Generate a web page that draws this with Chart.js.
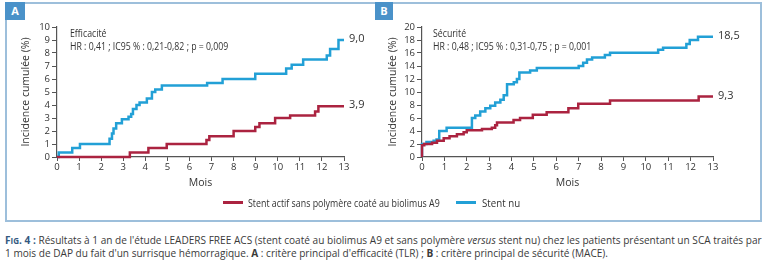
<!DOCTYPE html>
<html>
<head>
<meta charset="utf-8">
<script src="https://cdn.jsdelivr.net/npm/chart.js@4.4.0/dist/chart.umd.min.js"></script>
<style>
  body { margin: 0; width: 768px; height: 265px; background: #fff; position: relative; overflow: hidden; font-family: "Open Sans", sans-serif; color: #333; }
  .frame { position: absolute; left: 5px; top: 2px; width: 757px; height: 220px; box-sizing: border-box; border: 2px solid #9dbfdb; }
  .tag { position: absolute; top: 2px; height: 18px; background: #4a92c9; color: #fff; font: bold 11px "Open Sans", sans-serif; line-height: 18px; text-align: center; }
  .panel { position: absolute; top: 0; width: 380px; height: 200px; }
  .leg { position: absolute; top: 196px; height: 14px; font-size: 11px; line-height: 14px; white-space: nowrap; transform-origin: left center; }
  .swatch { position: absolute; top: 201px; width: 20px; height: 3px; }
  .cap { position: absolute; left: 5px; font-size: 10px; line-height: 13px; white-space: nowrap; transform-origin: left center; color: #3a3a3a; }
  .cap b.fig { color: #34597f; font-weight: bold; }
</style>
</head>
<body>
<div class="frame"></div>
<div class="tag" style="left:5px;width:20px">A</div>
<div class="tag" style="left:375px;width:18px">B</div>
<div class="panel" style="left:0"><canvas id="chartA" width="380" height="200"></canvas></div>
<div class="panel" style="left:375px"><canvas id="chartB" width="380" height="200"></canvas></div>

<div class="swatch" style="left:223px;background:#ab2340"></div>
<div class="leg" id="leg1" style="left:248px"></div>
<div class="swatch" style="left:456px;background:#22a0d6"></div>
<div class="leg" id="leg2" style="left:482px"></div>

<div class="cap" id="cap1" style="top:234px"><b class="fig">F<span style="font-size:8px">IG</span>. 4 :</b> Résultats à 1 an de l'étude LEADERS FREE ACS (stent coaté au biolimus A9 et sans polymère <i>versus</i> stent nu) chez les patients présentant un SCA traités par</div>
<div class="cap" id="cap2" style="top:247px">1 mois de DAP du fait d'un surrisque hémorragique. <b>A</b> : critère principal d'efficacité (TLR) ; <b>B</b> : critère principal de sécurité (MACE).</div>

<script>
// series names
const seriesNames = ['Stent actif sans polymère coaté au biolimus A9', 'Stent nu'];
const seriesColors = ['#ab2340', '#22a0d6'];

// A : efficacité (mois, incidence cumulée %)
const effTimesA9 = [0, 3.3, 4.14, 4.97, 6.77, 6.9, 8.0, 8.98, 9.17, 9.88, 10.56, 11.69, 11.84, 13];
const effA9      = [0, 0.35, 0.7, 1.0, 1.3, 1.6, 2.0, 2.3, 2.6, 3.0, 3.2, 3.5, 3.9, 3.9];
const effTimesNu = [0, 0.08, 0.69, 1.04, 2.38, 2.49, 2.56, 2.68, 2.94, 3.24, 3.36, 3.44, 3.6, 3.74, 4.07, 4.3, 4.45, 4.75, 6.8, 7.5, 8.98, 10.38, 10.63, 11.15, 12.22, 12.37, 12.75, 13];
const effNu      = [0, 0.35, 0.7, 1.0, 1.4, 1.8, 2.2, 2.6, 2.9, 3.1, 3.3, 3.7, 4.0, 4.2, 4.5, 5.0, 5.2, 5.5, 5.7, 6.0, 6.4, 6.8, 7.1, 7.5, 7.8, 8.3, 9.0, 9.0];

// B : sécurité
const secTimesA9 = [0, 0, 0.1, 0.45, 0.67, 0.97, 1.23, 1.56, 1.86, 2.0, 2.68, 3.12, 3.27, 3.35, 4.09, 4.38, 4.95, 5.57, 6.54, 6.98, 8.4, 12.36, 13];
const secA9      = [0, 1.8, 2.0, 2.2, 2.5, 2.9, 3.2, 3.5, 3.8, 4.1, 4.3, 4.5, 4.9, 5.3, 5.7, 6.0, 6.5, 6.9, 7.5, 8.2, 8.7, 9.3, 9.3];
const secTimesNu = [0, 0, 0.2, 0.52, 0.65, 0.77, 1.1, 2.23, 2.38, 2.6, 2.83, 3.05, 3.27, 3.5, 3.65, 3.8, 4.1, 4.24, 4.35, 4.83, 5.13, 7.0, 7.2, 7.37, 7.6, 8.17, 8.4, 10.55, 10.77, 11.81, 11.96, 12.33, 13];
const secNu      = [0, 2.0, 2.3, 2.5, 2.7, 4.0, 4.5, 6.0, 6.4, 7.0, 7.5, 7.9, 8.4, 8.8, 9.5, 11.2, 11.5, 12.0, 13.0, 13.3, 13.7, 14.0, 14.5, 15.0, 15.3, 15.7, 16.05, 16.5, 16.8, 17.4, 18.0, 18.5, 18.5];

const panelTitles = ['Efficacité', 'Sécurité'];
const panelStats = ['HR : 0,41 ; IC95 % : 0,21-0,82 ; p = 0,009', 'HR : 0,48 ; IC95 % : 0,31-0,75 ; p = 0,001'];
const xTitle = 'Mois';
const yTitle = 'Incidence cumulée (%)';

function pts(times, vals) {
  return times.map((t, i) => ({ x: t, y: vals[i] }));
}

// texte dans le graphe + valeurs finales
const notesPlugin = {
  id: 'notes',
  afterDatasetsDraw(chart, args, opts) {
    const { ctx, chartArea, scales } = chart;
    ctx.save();
    ctx.fillStyle = '#333';
    ctx.font = '11.5px "Open Sans"';
    ctx.textBaseline = 'alphabetic';
    const sq = 0.76;
    ctx.fillText(opts.title, chartArea.left + opts.dx, chartArea.top + 10, ctx.measureText(opts.title).width * sq);
    ctx.fillText(opts.stats, chartArea.left + opts.dx, chartArea.top + 23, ctx.measureText(opts.stats).width * sq);
    ctx.font = '11px "Open Sans"';
    ctx.textBaseline = 'middle';
    chart.data.datasets.forEach(ds => {
      const last = ds.data[ds.data.length - 1];
      ctx.fillText(last.y.toFixed(1).replace('.', ','), scales.x.getPixelForValue(last.x) + 5, scales.y.getPixelForValue(last.y) - 1);
    });
    ctx.restore();
  }
};

function makeChart(id, a9, nu, yMax, yStep, lay, idx) {
  return new Chart(document.getElementById(id), {
    type: 'line',
    data: {
      datasets: [
        { label: seriesNames[0], data: a9, borderColor: seriesColors[0], borderWidth: 2.5, stepped: true, pointRadius: 0, fill: false, clip: 4 },
        { label: seriesNames[1], data: nu, borderColor: seriesColors[1], borderWidth: 2.5, stepped: true, pointRadius: 0, fill: false, clip: 4 }
      ]
    },
    options: {
      responsive: false,
      animation: false,
      layout: { padding: { top: 27, right: lay.right, bottom: 0, left: 0 } },
      plugins: {
        legend: { display: false },
        tooltip: { enabled: false },
        notes: { title: panelTitles[idx], stats: panelStats[idx], dx: lay.dx }
      },
      scales: {
        x: {
          type: 'linear', min: 0, max: 13,
          ticks: { stepSize: 1, autoSkip: false, color: '#333', font: { size: 9.5, family: 'Open Sans' }, padding: 1, maxRotation: 0 },
          grid: { drawOnChartArea: false, tickLength: 4, color: '#555' },
          border: { color: '#555', width: 1.2 },
          title: { display: true, text: xTitle, color: '#333', font: { size: 10.5, family: 'Open Sans' }, padding: { top: 0, bottom: 11 } },
          afterFit(s) { s.height = 43; }
        },
        y: {
          min: 0, max: yMax,
          ticks: { stepSize: yStep, autoSkip: false, color: '#333', font: { size: 9.5, family: 'Open Sans' }, padding: 2 },
          grid: { drawOnChartArea: false, tickLength: 5, color: '#555' },
          border: { color: '#555', width: 1.2 },
          title: { display: true, text: yTitle, color: '#333', font: { size: 10.5, family: 'Open Sans' }, padding: { top: lay.yt, bottom: 0 } },
          afterFit(s) { s.width = lay.left; }
        }
      }
    },
    plugins: [notesPlugin]
  });
}

makeChart('chartA', pts(effTimesA9, effA9), pts(effTimesNu, effNu), 10, 1, { left: 57, right: 36, yt: 20, dx: 13 }, 0);
makeChart('chartB', pts(secTimesA9, secA9), pts(secTimesNu, secNu), 20, 2, { left: 47, right: 42, yt: 12, dx: 11 }, 1);

// légende
document.getElementById('leg1').textContent = seriesNames[0];
document.getElementById('leg2').textContent = seriesNames[1];
function squeeze(el, w) {
  const f = w / el.scrollWidth;
  el.style.transform = 'scaleX(' + f + ')';
  return f;
}
squeeze(document.getElementById('leg1'), 192);
squeeze(document.getElementById('leg2'), 38);
const f = squeeze(document.getElementById('cap1'), 757);
document.getElementById('cap2').style.transform = 'scaleX(' + f + ')';
</script>
</body>
</html>
